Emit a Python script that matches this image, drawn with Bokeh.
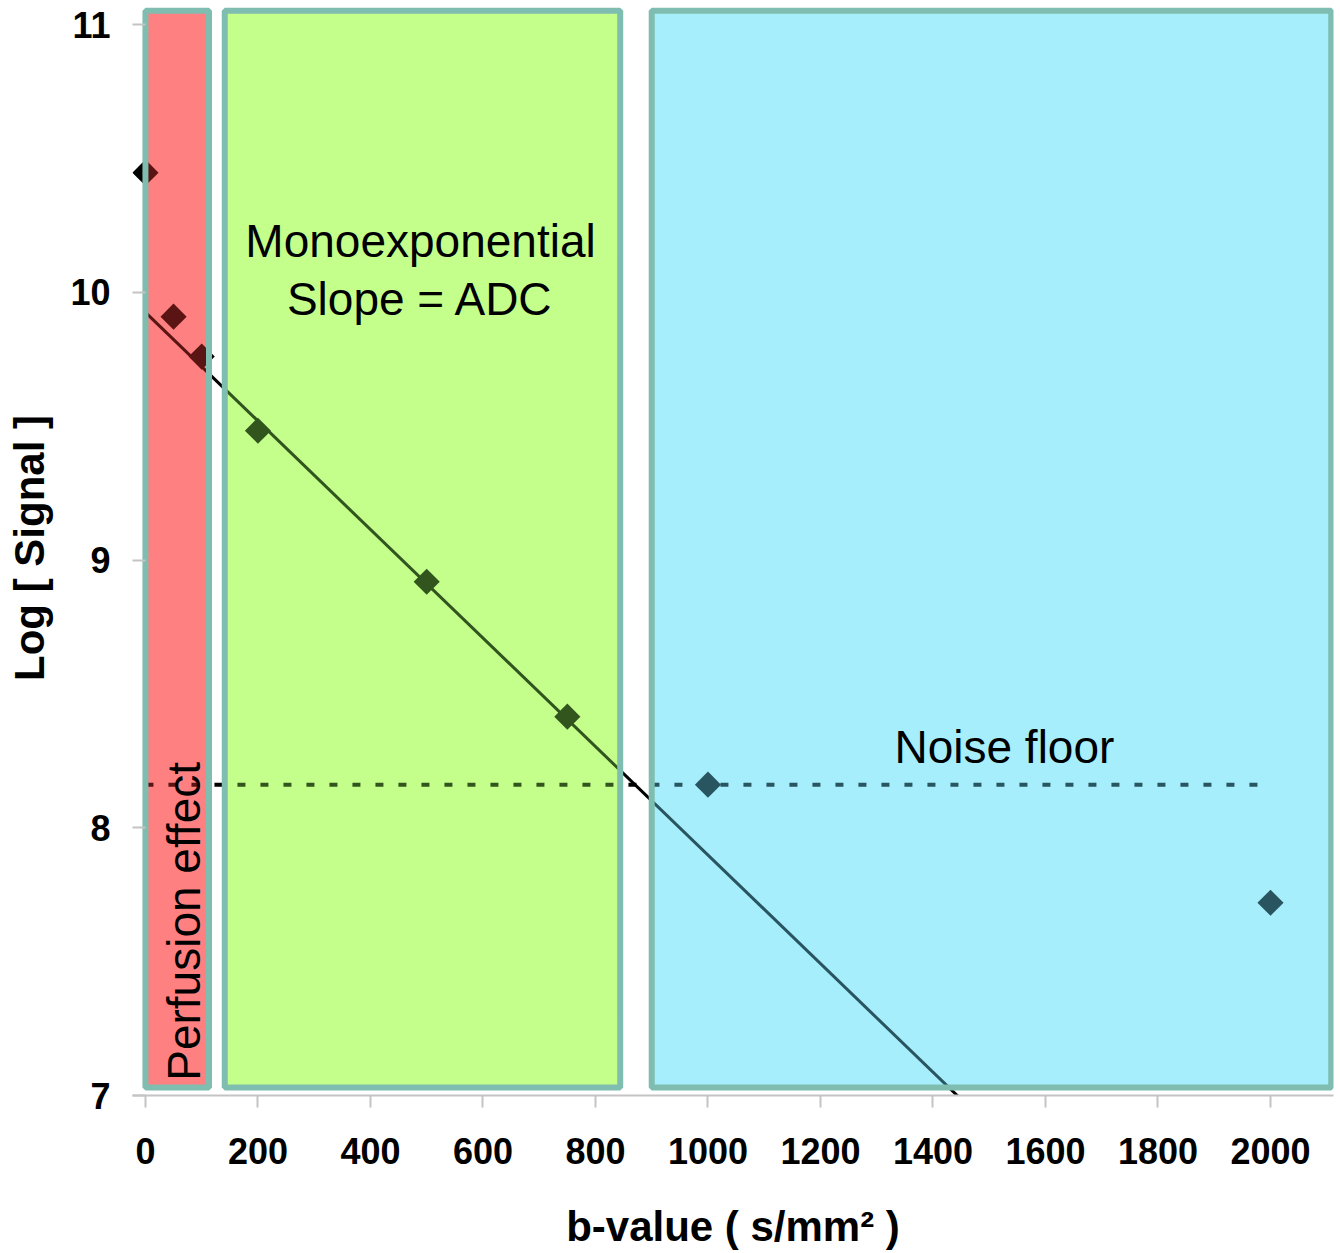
from bokeh.plotting import figure
from bokeh.models import Range1d, FixedTicker
from bokeh.embed import file_html
from bokeh.resources import INLINE
from bokeh.core.properties import value
import math

# ---- data ----
b_values = [0, 50, 100, 200, 500, 750, 1000, 2000]
log_signal = [10.447, 9.909, 9.760, 9.483, 8.919, 8.415, 8.161, 7.720]

fit_intercept = 9.925
fit_slope = -0.002027
fit_x_end = 1460

noise_floor = 8.161

region_names = ["Perfusion", "Monoexponential", "Noise"]
region_left = [0, 141, 900]
region_right = [113, 844, 2108]
region_bottom = 7.03
region_top = 11.052
region_under = ["#ffa7a7", "#dbffa5", "#cdf9ff"]
region_over = ["#ff3939", "#96ff5a", "#68ddf7"]
region_alpha = [0.353, 0.333, 0.385]

x_ticks = [0, 200, 400, 600, 800, 1000, 1200, 1400, 1600, 1800, 2000]
y_ticks = [7, 8, 9, 10, 11]

FONT = "Liberation Sans"

p = figure(width=1340, height=1253, x_range=Range1d(-23, 2112), y_range=Range1d(7, 11.09),
           output_backend="svg", toolbar_location=None,
           min_border_left=132, min_border_right=7, min_border_top=0, min_border_bottom=158)
p.outline_line_color = None
p.grid.visible = False
p.background_fill_color = "white"

# underlay fills
for i in range(3):
    p.quad(left=[region_left[i]], right=[region_right[i]], bottom=[region_bottom], top=[region_top],
           fill_color=region_under[i], line_color=None)

# data in black
fit_x = [0, fit_x_end]
fit_y = [fit_intercept + fit_slope * x for x in fit_x]
p.line(fit_x, fit_y, line_color="black", line_width=3)
p.line([b_values[0], b_values[-1]], [noise_floor, noise_floor], line_color="black",
       line_width=4, line_dash="8 15")
p.scatter(b_values, log_signal, marker="square", size=18.5, angle=math.pi / 4,
          fill_color="black", line_color=None)

# overlay tints
for i in range(3):
    p.quad(left=[region_left[i]], right=[region_right[i]], bottom=[region_bottom], top=[region_top],
           fill_color=region_over[i], fill_alpha=region_alpha[i], line_color=None)

# borders
p.quad(left=region_left, right=region_right, bottom=[region_bottom] * 3, top=[region_top] * 3,
       fill_color=None, line_color="#7fbdb0", line_width=6)

# annotations
p.text(x=[489, 489], y=[10.19, 9.975], text=["Monoexponential", "Slope = ADC"],
       text_font=value(FONT), text_font_size="46px", text_align="center",
       text_baseline="middle", text_color="black")
p.text(x=[1527], y=[8.30], text=["Noise floor"], text_font=value(FONT), text_font_size="46px",
       text_align="center", text_baseline="middle", text_color="black")
p.text(x=[68], y=[7.055], text=["Perfusion effect"], text_font=value(FONT), text_font_size="46px",
       text_align="left", text_baseline="middle", angle=math.pi / 2, text_color="black")

# axes
xa = p.xaxis[0]
xa.ticker = FixedTicker(ticks=x_ticks)
xa.axis_line_color = "#c4c4c4"
xa.axis_line_width = 2
xa.major_tick_line_color = "#c4c4c4"
xa.major_tick_line_width = 2
xa.major_tick_out = 12
xa.major_tick_in = 0
xa.minor_tick_line_color = None
xa.major_label_text_font = FONT
xa.major_label_text_font_style = "bold"
xa.major_label_text_font_size = "36px"
xa.major_label_text_color = "black"
xa.major_label_standoff = 30
xa.axis_label = "b-value ( s/mm² )"
xa.axis_label_text_font = FONT
xa.axis_label_text_font_style = "bold"
xa.axis_label_text_font_size = "42px"
xa.axis_label_text_color = "black"
xa.axis_label_standoff = 36

ya = p.yaxis[0]
ya.ticker = FixedTicker(ticks=y_ticks)
ya.axis_line_color = None
ya.major_tick_line_color = "#c4c4c4"
ya.major_tick_line_width = 2
ya.major_tick_out = 0
ya.major_tick_in = 13
ya.minor_tick_line_color = None
ya.major_label_text_font = FONT
ya.major_label_text_font_style = "bold"
ya.major_label_text_font_size = "36px"
ya.major_label_text_color = "black"
ya.major_label_standoff = 22
ya.axis_label = "Log [ Signal ]"
ya.axis_label_text_font = FONT
ya.axis_label_text_font_style = "bold"
ya.axis_label_text_font_size = "42px"
ya.axis_label_text_color = "black"
ya.axis_label_standoff = 14

open("out.html", "w").write(file_html(p, INLINE))
